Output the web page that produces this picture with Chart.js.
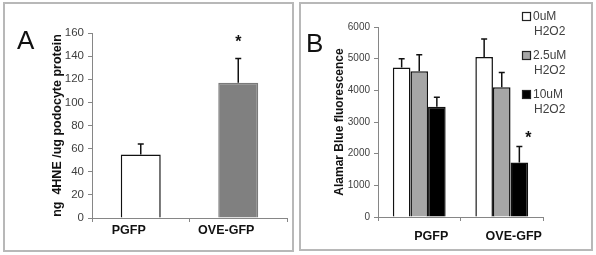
<!DOCTYPE html>
<html>
<head>
<meta charset="utf-8">
<script src="https://cdn.jsdelivr.net/npm/chart.js@4"></script>
<style>
  body { margin: 0; background: #fff; width: 596px; height: 255px; position: relative; overflow: hidden; font-family: "Liberation Sans", Arial, sans-serif; }
  .panel { position: absolute; box-sizing: border-box; border: 2px solid #b8b8b8; }
  .panel canvas { display: block; }
  .letter { position: absolute; font-size: 26px; color: #111; line-height: 1; }
</style>
</head>
<body>
<div class="panel" style="left:3px; top:2px; width:291px; height:250px;">
  <canvas id="chartA" width="287" height="246"></canvas>
</div>
<div class="panel" style="left:299px; top:2px; width:294px; height:249px;">
  <canvas id="chartB" width="290" height="245"></canvas>
</div>
<div class="letter" style="left:17px; top:27px;">A</div>
<div class="letter" style="left:306px; top:30px;">B</div>
<script>
// panel A data
const categories = ["PGFP", "OVE-GFP"];
const hneValues = [55, 117];
const hneErrors = [9, 21];
const hneStars = [false, true];

// panel B data
const doseLabels = ["0uM\nH2O2", "2.5uM\nH2O2", "10uM\nH2O2"];
const alamar0 = [4720, 5050];
const alamar0Err = [280, 570];
const alamar25 = [4600, 4100];
const alamar25Err = [520, 460];
const alamar10 = [3480, 1720];
const alamar10Err = [300, 510];
const alamar10Stars = [false, true];

const axisGray = "#868686";
const catFont = { family: "Liberation Sans", size: 12.5, weight: "bold" };

// error bars + asterisks drawn from the bar elements
const errorBars = {
    id: "errorBars",
    afterDatasetsDraw(chart) {
        const ctx = chart.ctx;
        const yScale = chart.scales.y;
        chart.data.datasets.forEach((ds, di) => {
            const meta = chart.getDatasetMeta(di);
            meta.data.forEach((bar, i) => {
                const top = yScale.getPixelForValue(ds.data[i] + ds.errors[i]);
                ctx.save();
                ctx.strokeStyle = "#111";
                ctx.lineWidth = 1.5;
                ctx.beginPath();
                ctx.moveTo(bar.x, bar.y);
                ctx.lineTo(bar.x, top);
                ctx.moveTo(bar.x - 3, top);
                ctx.lineTo(bar.x + 3, top);
                ctx.stroke();
                if (ds.stars && ds.stars[i]) {
                    ctx.fillStyle = "#111";
                    ctx.font = "bold 16px Liberation Sans";
                    ctx.textAlign = "center";
                    ctx.textBaseline = "middle";
                    ctx.fillText("*", bar.x + (ds.starShift || 0), top - (ds.starGap || 14));
                }
                ctx.restore();
            });
        });
    }
};

// legend for panel B, two-line labels
const doseLegend = {
    id: "doseLegend",
    afterDraw(chart) {
        const ctx = chart.ctx;
        ctx.save();
        chart.data.datasets.forEach((ds, di) => {
            const x = 221, y = 12.5 + di * 39;
            ctx.fillStyle = ds.backgroundColor;
            ctx.fillRect(x, y - 4.5, 9, 9);
            ctx.strokeStyle = "#222";
            ctx.lineWidth = 1.2;
            ctx.strokeRect(x + 0.5, y - 4, 8, 8);
            ctx.fillStyle = "#404040";
            ctx.font = "12px Liberation Sans";
            ctx.textBaseline = "middle";
            ds.label.split("\n").forEach((line, li) => {
                ctx.fillText(line, x + (li ? 12 : 11), y + li * 15.5);
            });
        });
        ctx.restore();
    }
};

function yAxis(max, step, width, tickSize, titleText, titleSize, titlePad) {
    return {
        min: 0,
        max: max,
        ticks: {
            stepSize: step, color: "#404040", padding: 4,
            font: { family: "Liberation Sans", size: tickSize },
            callback: (v) => String(v)
        },
        grid: { drawOnChartArea: false, drawTicks: true, tickLength: 4, color: axisGray },
        border: { color: axisGray, width: 1 },
        title: {
            display: true, text: titleText, color: "#111",
            font: { family: "Liberation Sans", size: titleSize, weight: "bold" },
            padding: { top: titlePad, bottom: 0 }
        },
        afterFit(scale) { scale.width = width; }
    };
}

function xAxis(labelOffset, padding) {
    return {
        ticks: { color: "#111", font: catFont, labelOffset: labelOffset, padding: padding },
        grid: { offset: true, drawOnChartArea: false, drawTicks: true, tickLength: 4, color: axisGray },
        border: { color: axisGray, width: 1 },
        afterFit(scale) { scale.height = 32; }
    };
}

new Chart(document.getElementById("chartA"), {
    type: "bar",
    data: {
        labels: categories,
        datasets: [{
            label: "4HNE",
            data: hneValues,
            errors: hneErrors,
            stars: hneStars,
            starGap: 16,
            backgroundColor: ["#ffffff", "#808080"],
            borderColor: ["#111111", "#7a7a7a"],
            borderWidth: 1.5,
            barPercentage: 0.41,
            categoryPercentage: 1
        }]
    },
    options: {
        responsive: false,
        animation: false,
        devicePixelRatio: 1,
        layout: { padding: { left: 0, right: 5, top: 29, bottom: 0 } },
        plugins: { legend: { display: false }, tooltip: { enabled: false } },
        scales: {
            x: xAxis(-12, 1),
            y: yAxis(160, 20, 87, 11.5, "ng  4HNE /ug podocyte protein", 12.5, 45)
        }
    },
    plugins: [errorBars]
});

const barStyle = { borderColor: "#111111", borderWidth: 1.5, barPercentage: 1, categoryPercentage: 0.64 };

new Chart(document.getElementById("chartB"), {
    type: "bar",
    data: {
        labels: categories,
        datasets: [
            Object.assign({ label: doseLabels[0], data: alamar0, errors: alamar0Err, backgroundColor: "#ffffff" }, barStyle),
            Object.assign({ label: doseLabels[1], data: alamar25, errors: alamar25Err, backgroundColor: "#a6a6a6" }, barStyle),
            Object.assign({ label: doseLabels[2], data: alamar10, errors: alamar10Err, backgroundColor: "#000000",
                stars: alamar10Stars, starShift: 9, starGap: 8 }, barStyle)
        ]
    },
    options: {
        responsive: false,
        animation: false,
        devicePixelRatio: 1,
        layout: { padding: { left: 0, right: 48, top: 23, bottom: 0 } },
        plugins: { legend: { display: false }, tooltip: { enabled: false } },
        scales: {
            x: xAxis(12, 8),
            y: yAxis(6000, 1000, 77, 10, "Alamar Blue fluorescence", 12, 31)
        }
    },
    plugins: [errorBars, doseLegend]
});
</script>
</body>
</html>
